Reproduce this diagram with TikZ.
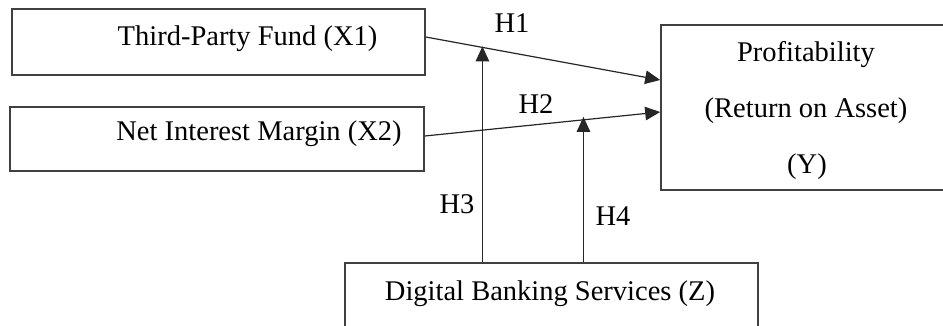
\documentclass[tikz,border=0pt]{standalone}
\usepackage{fontspec}
\setmainfont{Liberation Serif}
\usetikzlibrary{arrows.meta}
\begin{document}
\begin{tikzpicture}[x=1pt,y=-1pt,
  box/.style={draw=black!75, line width=1.6pt, rectangle, inner sep=0pt},
  txt/.style={anchor=base, inner sep=0pt, font=\fontsize{28.5}{34}\selectfont},
  arr/.style={draw=black!85, line width=1.2pt, -{Triangle[length=15pt,width=13.5pt]}}]
\useasboundingbox (0,0) rectangle (943,325);
\clip (0,0) rectangle (943,325);
\fill[white] (0,0) rectangle (943,325);
% boxes
\node[box, minimum width=413pt, minimum height=66pt] (x1) at (218.5,42) {};
\node[box, minimum width=414pt, minimum height=64pt] (x2) at (217,139) {};
\node[box, minimum width=300pt, minimum height=165pt] (yb) at (811,107.5) {};
\node[box, minimum width=413pt, minimum height=90pt] (zb) at (551.5,308) {};
% texts
\node[txt] (tx1) at (247.5,45) {Third-Party Fund (X1)};
\node[txt] (tx2) at (259,140) {Net Interest Margin (X2)};
\node[txt] (ty1) at (806,61) {Profitability};
\node[txt] (ty2) at (806,117) {(Return on Asset)};
\node[txt] (ty3) at (807,173) {(Y)};
\node[txt] (tz) at (550,300) {Digital Banking Services (Z)};
\node[txt] (h1) at (512,32) {H1};
\node[txt] (h2) at (536,113) {H2};
\node[txt] (h3) at (457,213) {H3};
\node[txt] (h4) at (613,225) {H4};
% main arrows
\draw[arr] ([yshift=5pt]x1.east) -- ([yshift=27.5pt]yb.west) coordinate[pos=0] (a1) coordinate[pos=1] (b1);
\draw[arr] ([yshift=3pt]x2.east) -- ([yshift=-4.5pt]yb.west) coordinate[pos=0] (a2) coordinate[pos=1] (b2);
\path (a1) -- (b1) coordinate[pos=0.2415] (m1);
\path (a2) -- (b2) coordinate[pos=0.674] (m2);
% moderating arrows
\draw[arr] (zb.north -| m1) -- ([yshift=1pt]m1);
\draw[arr] (zb.north -| m2) -- ([yshift=3pt]m2);
\end{tikzpicture}
\end{document}
